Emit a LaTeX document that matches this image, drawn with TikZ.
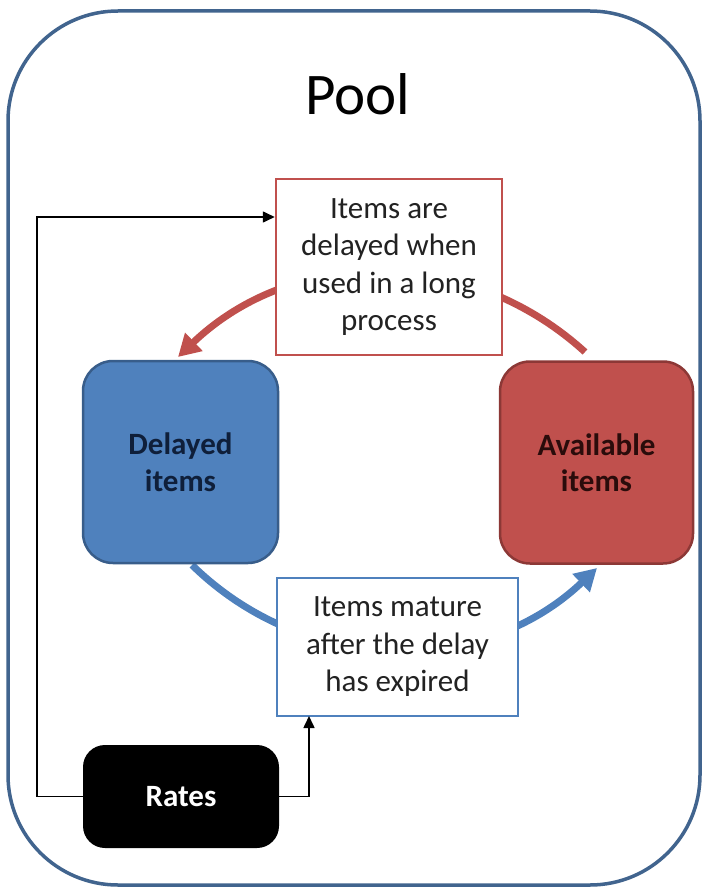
\documentclass[tikz,border=0pt]{standalone}
\usepackage{fontspec}
\setmainfont{Carlito}
\usetikzlibrary{arrows.meta}
\definecolor{poolline}{HTML}{41648E}
\definecolor{accblue}{HTML}{4F81BD}
\definecolor{accblueedge}{HTML}{385D8A}
\definecolor{accred}{HTML}{C0504D}
\definecolor{accrededge}{HTML}{8C3836}
\definecolor{navytext}{HTML}{0F1F3A}
\definecolor{maroontext}{HTML}{2A0C0B}
\definecolor{bodytext}{HTML}{222222}
\begin{document}
\begin{tikzpicture}[x=1pt,y=1pt,
  note/.style={draw, line width=2.5pt, fill=white, align=center, text=bodytext,
    font=\fontsize{31}{37.5}\selectfont, inner sep=0pt},
  store/.style={draw, line width=2.5pt, rounded corners=30pt, align=center,
    font=\bfseries\fontsize{31}{36.5}\selectfont, inner sep=0pt,
    minimum width=195pt, minimum height=202pt},
  flow/.style={line width=7pt},
  wire/.style={line width=1.6pt, black, -{Triangle[length=12pt,width=11pt]}}]
\useasboundingbox (0,0) rectangle (703,-890);

% outer pool container and its title
\node[draw=poolline, line width=3.5pt, rounded corners=110pt,
  minimum width=692pt, minimum height=874pt, inner sep=0pt] (pool) at (354,-448) {};
\node[anchor=base, font=\fontsize{59}{70}\selectfont] (title) at (358,-115) {Pool};

% end points of the two curved flows
\coordinate (r1) at (585,-352);
\coordinate (r2) at (178,-357);
\coordinate (b1) at (192,-565);
\coordinate (b2) at (597,-568);

\draw[flow, accred, -{Triangle[length=22pt,width=24pt]}] (r1) to[bend right=43] (r2);
\draw[flow, accblue, -{Triangle[length=22pt,width=24pt]}] (b1) to[bend right=44] (b2);

% the two stocks
\node[store, fill=accblue, draw=accblueedge, text=navytext] (delayed) at (180.5,-462) {Delayed\\items};
\node[store, fill=accred, draw=accrededge, text=maroontext, minimum width=193pt] (available) at (596.5,-462.5) {Available\\items};

% explanatory notes on the flows
\node[note, draw=accred, minimum width=226pt, minimum height=176pt] (delaynote) at (389,-267)
  {Items are\\delayed when\\used in a long\\process};
\node[note, draw=accblue, minimum width=241pt, minimum height=138pt] (maturenote) at (397.5,-647)
  {Items mature\\after the delay\\has expired};

% rates control
\node[fill=black, rounded corners=22pt, minimum width=196pt, minimum height=103pt,
  text=white, font=\bfseries\fontsize{31}{36}\selectfont, inner sep=0pt] (rates) at (181,-796.5) {Rates};

\coordinate (leftbend) at (37,-217);
\coordinate (upend) at (309,-716);
\draw[wire] (rates.west) -- (rates.west -| leftbend) -- (leftbend) -- (leftbend -| delaynote.west);
\draw[wire] (rates.east) -| (upend);
\end{tikzpicture}
\end{document}
